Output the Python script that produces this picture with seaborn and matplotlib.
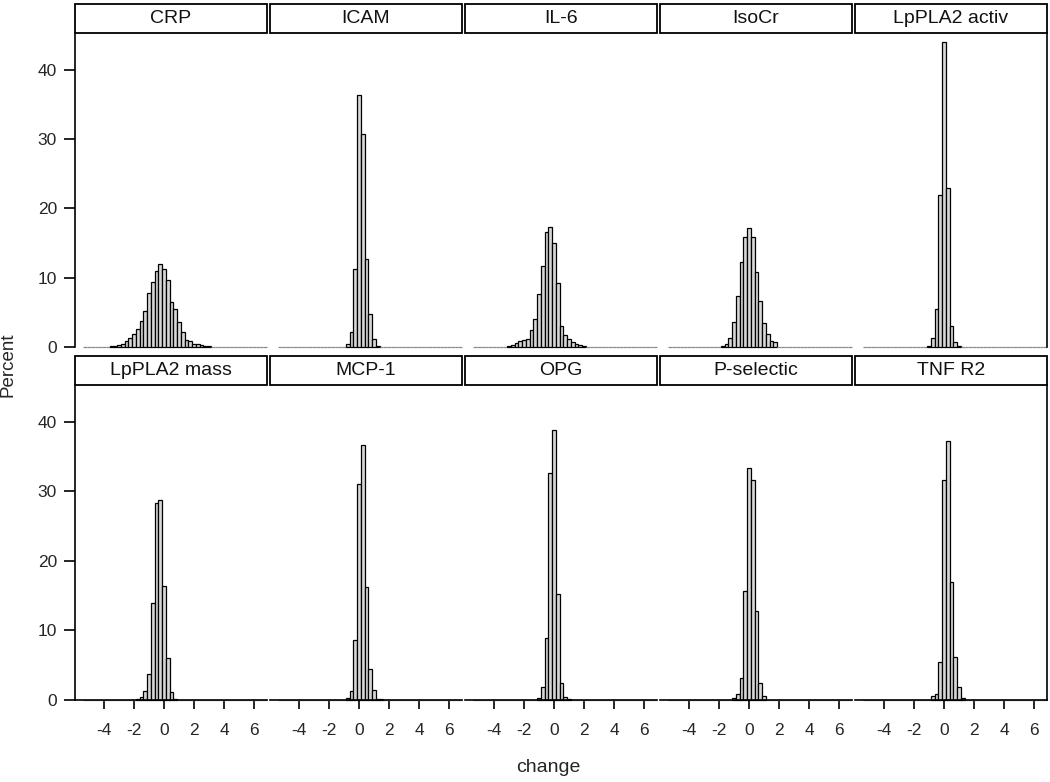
import numpy as np
import pandas as pd
import seaborn as sns
import matplotlib.pyplot as plt
from matplotlib.patches import Rectangle

# panel names, in reading order (2 rows x 5 columns)
markers = ["CRP", "ICAM", "IL-6", "IsoCr", "LpPLA2 activ",
           "LpPLA2 mass", "MCP-1", "OPG", "P-selectic", "TNF R2"]

# common bins: midpoints at multiples of 0.25
bin_width = 0.25
bin_edges = list(np.arange(-5.375, 6.9, bin_width))

# percent per bin, starting at the given bin midpoint
crp_start = -3.5
crp_pct = [0.1, 0.2, 0.35, 0.5, 0.8, 1.3, 1.9, 2.6, 3.8, 5.2, 7.8, 9.4, 11.0, 12.0,
           11.2, 9.7, 6.5, 5.5, 3.6, 2.1, 1.0, 0.9, 0.5, 0.45, 0.3, 0.15, 0.1]

icam_start = -0.75
icam_pct = [0.5, 2.2, 11.3, 36.4, 30.8, 12.7, 4.8, 1.2, 0.2]

il6_start = -3.0
il6_pct = [0.15, 0.3, 0.6, 0.85, 1.0, 1.2, 2.4, 4.1, 7.7, 11.7, 16.6, 17.3,
           15.0, 9.2, 3.1, 1.7, 1.2, 0.7, 0.5, 0.3, 0.1]

isocr_start = -1.75
isocr_pct = [0.2, 0.5, 1.3, 3.6, 7.3, 12.2, 15.8, 17.1, 15.8, 10.8, 6.7, 3.4, 1.9, 0.9, 0.7]

activ_start = -1.0
activ_pct = [0.2, 1.3, 5.5, 22.0, 44.0, 22.9, 3.1, 0.7, 0.2]

mass_start = -1.75
mass_pct = [0.2, 0.5, 1.3, 3.7, 13.9, 28.3, 28.8, 16.4, 6.1, 1.1, 0.2]

mcp1_start = -0.75
mcp1_pct = [0.35, 1.3, 8.6, 31.0, 36.6, 16.2, 4.5, 1.5, 0.2, 0.1]

opg_start = -1.0
opg_pct = [0.3, 1.8, 8.9, 32.6, 38.9, 15.2, 2.5, 0.5, 0.2]

psel_start = -1.0
psel_pct = [0.3, 0.8, 3.2, 15.7, 33.3, 31.6, 12.8, 2.5, 0.6]

tnfr2_start = -0.75
tnfr2_pct = [0.6, 0.8, 5.5, 31.6, 37.3, 17.0, 6.2, 1.9, 0.35]

x_ticks = [-4, -2, 0, 2, 4, 6]
y_ticks = [0, 10, 20, 30, 40]

starts = [crp_start, icam_start, il6_start, isocr_start, activ_start,
          mass_start, mcp1_start, opg_start, psel_start, tnfr2_start]
pcts = [crp_pct, icam_pct, il6_pct, isocr_pct, activ_pct,
        mass_pct, mcp1_pct, opg_pct, psel_pct, tnfr2_pct]

rows = []
for name, start, pct in zip(markers, starts, pcts):
    mids = start + bin_width * np.arange(len(pct))
    for m, p in zip(mids, pct):
        rows.append({"marker": name, "change": m, "pct": p})
df = pd.DataFrame(rows)

sns.set_theme(style="white")
plt.rcParams['font.family'] = ['Liberation Sans', 'DejaVu Sans']
plt.rcParams['axes.unicode_minus'] = False

W, H = 1050, 782
fig = plt.figure(figsize=(W / 100, H / 100), dpi=100)

left0, panel_w, gap = 75, 192, 3
row_top = [33, 385]
row_bot = [347, 700]
strip_h = 29

for i, name in enumerate(markers):
    r, c = divmod(i, 5)
    x0 = left0 + c * (panel_w + gap)
    ax_h = row_bot[r] - row_top[r]
    ax = fig.add_axes([x0 / W, 1 - row_bot[r] / H, panel_w / W, ax_h / H])
    sub = df[df["marker"] == name]
    sns.histplot(data=sub, x="change", weights="pct", bins=bin_edges, ax=ax,
                 color="#d6d6d6", edgecolor="black", linewidth=0.9, alpha=1)
    # empty bins show as a grey line along zero, like the original
    for p in ax.patches:
        p.set_clip_on(False)
        if p.get_height() == 0:
            p.set_edgecolor("#8a8a8a")
    ax.set_xlim(-5.93, 6.87)
    ax.set_ylim(0, 45.3)
    ax.set_xlabel("")
    ax.set_ylabel("")

    for s in ax.spines.values():
        s.set_visible(False)
        s.set_color("black")
        s.set_linewidth(1.2)
    if c == 0:
        ax.spines["left"].set_visible(True)
    if c == 4:
        ax.spines["right"].set_visible(True)
    if r == 1:
        ax.spines["bottom"].set_visible(True)

    ax.set_xticks(x_ticks)
    ax.set_yticks(y_ticks)
    ax.tick_params(axis="x", bottom=(r == 1), labelbottom=(r == 1), length=6.5,
                   width=1.2, color="black", labelsize=12.5, pad=10, direction="out")
    ax.tick_params(axis="y", left=(c == 0), labelleft=(c == 0), length=8,
                   width=1.2, color="black", labelsize=12.5, pad=5, direction="out")

    frac = strip_h / ax_h
    ax.add_patch(Rectangle((0, 1), 1, frac, transform=ax.transAxes, clip_on=False,
                           facecolor="white", edgecolor="black", linewidth=1.3))
    ax.text(0.5, 1 + frac / 2, name, transform=ax.transAxes, ha="center",
            va="center", fontsize=14, color="#111111")

fig.text(8 / W, 1 - 365 / H, "Percent", rotation=90, ha="center", va="center", fontsize=13.5)
fig.text(548 / W, 1 - 768 / H, "change", ha="center", va="center", fontsize=14)

fig.savefig("out.png", dpi=100)
